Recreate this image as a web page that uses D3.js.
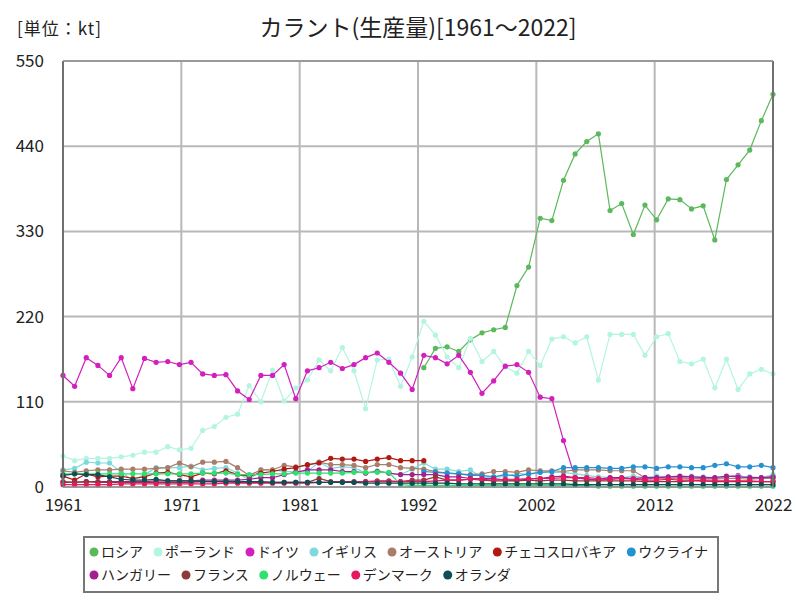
<!DOCTYPE html>
<html><head><meta charset="utf-8">
<script src="https://cdn.jsdelivr.net/npm/d3@7"></script>
<style>
body{margin:0;background:#fff;}
text{font-family:"Noto Sans CJK JP","Noto Sans",sans-serif;}
</style></head>
<body><svg id="c" width="800" height="600"></svg>
<script>
const startYear = 1961, endYear = 2022;
const seriesNames = ["ロシア","ポーランド","ドイツ","イギリス","オーストリア","チェコスロバキア","ウクライナ","ハンガリー","フランス","ノルウェー","デンマーク","オランダ"];
const seriesColors = ["#5cb85c","#b4f5e2","#d21fbe","#7fd9dc","#a87d6a","#b01a12","#2591d0","#a3208f","#8b3a3a","#2ee070","#e8185e","#0e4e55"];
const yTicks = [0,110,220,330,440,550];

const russia = [154,179,181,175,190,199,203,206,260,284,347,344,396,430,446,456,357,366,326,364,345,372,371,359,363,319,397,416,435,473,507]; // 1992-2022
const poland = [40,34,37,37,37,39,41,45,45,52, 48,50,73,78,90,94,131,110,151,111, 128,138,164,150,180,150,101,164,165,130, 168,214,196,168,154,192,162,175,155,147, 175,157,191,194,186,194,138,197,197,197, 170,194,198,162,159,165,128,165,126,146, 152,146];
const germany = [144,130,167,157,144,167,127,166,161,162, 158,161,146,144,145,124,113,144,144,158, 114,150,154,161,153,158,167,173,161,147, 126,170,167,159,170,148,121,137,156,158, 148,116,114,60,12,10,9,10,11,11, 10,12,11,12,11,10,11,13,15,11, 12,13];
const uk = [22,24,32,31,31,19,9,16,25,25, 25,27,22,24,25,18,9,22,22,20, 20,20,32,24,26,25,18,21,18,16, 23,31,23,23,20,22,12,13,13,18, 16,19,19,19,17,15,13,12,12,14, 12,14,13,13,14,13,12,13,14,13, 12,16];
const austria = [21,19,21,22,22,23,23,23,24,25, 31,26,32,32,33,25,15,22,22,28, 26,28,32,29,29,28,25,29,29,25, 24,23,20,18,17,16,17,20,20,19, 22,21,21,20,22,22,22,21,21,21, 12,12,11,12,11,11,10,11,11,10, 11,11];
const czechoslovakia = [14,9,17,13,14,14,11,13,18,19, 16,13,18,17,21,16,14,18,20,23, 25,29,31,37,36,36,33,36,38,34, 34,34]; // 1961-1992
const ukraine = [20,19,18,17,15,15,13,16,14,17,19,20,25,25,25,25,24,24,26,26,24,26,26,25,25,28,30,26,26,28,25]; // 1992-2022
const hungary = [6,6,7,7,7,7,7,7,8,8, 8,8,9,9,9,9,10,12,12,16, 19,22,22,22,20,20,18,20,18,16, 16,16,16,13,13,11,11,11,9,9, 10,11,13,14,12,10,10,12,12,11, 12,12,13,14,13,12,12,14,13,12, 12,13];
const france = [7,6,7,6,6,6,6,6,6,6, 6,6,7,7,7,6,6,6,6,6, 6,6,11,7,7,7,7,8,8,7, 9,9,13,9,9,10,9,8,8,8, 9,8,9,9,8,8,8,8,8,8, 7,7,7,7,8,8,7,7,7,7, 7,7];
const norway = [17,17,17,17,17,17,17,17,17,17, 17,17,18,18,18,16,16,16,17,17, 18,18,18,18,18,19,19,19,19,3, 2,2,2,2,2,2,2,2,2,2, 2,2,2,2,2,2,1,1,1,1, 1,1,1,1,1,1,1,1,1,1, 1,1];
const denmark = [3,3,3,3,3,4,4,4,4,4, 4,4,4,4,5,5,5,5,5,5, 5,5,6,6,6,6,7,7,7,7, 7,7,8,9,9,10,10,9,10,10, 11,11,11,12,12,12,11,10,11,10, 9,9,10,9,9,8,8,8,8,8, 7,7];
const netherlands = [15,17,16,16,13,10,9,9,10,8, 8,8,7,7,7,7,7,7,6,6, 6,6,6,6,6,6,5,5,5,5, 5,5,5,5,4,4,4,4,4,4, 4,4,4,4,3,3,3,3,3,3, 3,3,3,3,3,3,3,3,3,3, 3,3];

const seriesData = [
  {values: russia, from: 1992},
  {values: poland, from: 1961},
  {values: germany, from: 1961},
  {values: uk, from: 1961},
  {values: austria, from: 1961},
  {values: czechoslovakia, from: 1961},
  {values: ukraine, from: 1992},
  {values: hungary, from: 1961},
  {values: france, from: 1961},
  {values: norway, from: 1961},
  {values: denmark, from: 1961},
  {values: netherlands, from: 1961}
];

const svg = d3.select("#c");
const L = 63, R = 773, T = 61, B = 487;
const x = d3.scaleLinear().domain([startYear, endYear]).range([L, R]);
const y = d3.scaleLinear().domain([0, 550]).range([B, T]);

// title
svg.append("text").attr("x", 418).attr("y", 36).attr("text-anchor","middle")
  .attr("font-size", 23).attr("fill","#222").text("カラント(生産量)[1961～2022]");
svg.append("text").attr("x", 17).attr("y", 35).attr("font-size", 17).attr("letter-spacing", 1).attr("fill","#222").text("[単位：kt]");

// grid
const xTickVals = d3.range(0, 7).map(k => startYear + k * (endYear - startYear) / 6);
const g = svg.append("g");
g.selectAll(".gx").data(xTickVals).enter().append("line")
  .attr("x1", d => x(d)).attr("x2", d => x(d)).attr("y1", T).attr("y2", B)
  .attr("stroke", "#b8b8b8").attr("stroke-width", 2);
g.selectAll(".gy").data(yTicks).enter().append("line")
  .attr("x1", L).attr("x2", R).attr("y1", d => y(d)).attr("y2", d => y(d))
  .attr("stroke", "#b8b8b8").attr("stroke-width", 2);

// axes labels
const yAxis = d3.axisLeft(y).tickValues(yTicks).tickSize(0).tickPadding(19);
const ya = svg.append("g").attr("transform", `translate(${L},0)`).call(yAxis);
ya.select(".domain").remove();
ya.selectAll("text").attr("font-size", 17).attr("fill", "#222").attr("font-family","'Liberation Sans',sans-serif");
const xAxis = d3.axisBottom(x).tickValues(xTickVals).tickSize(0).tickPadding(12).tickFormat(d => Math.round(d));
const xa = svg.append("g").attr("transform", `translate(0,${B})`).call(xAxis);
xa.select(".domain").remove();
xa.selectAll("text").attr("font-size", 17).attr("fill", "#222").attr("font-family","'Liberation Sans',sans-serif");

// series
const line = d3.line().defined(d => d.v != null).x(d => x(d.yr)).y(d => y(d.v));
seriesData.forEach((s, i) => {
  const pts = s.values.map((v, j) => ({yr: s.from + j, v}));
  const col = seriesColors[i];
  svg.append("path").datum(pts).attr("d", line).attr("fill", "none")
    .attr("stroke", col).attr("stroke-width", 1.2);
  svg.append("g").selectAll("circle").data(pts).enter().append("circle")
    .attr("cx", d => x(d.yr)).attr("cy", d => y(d.v)).attr("r", 2.6).attr("fill", col);
});

// frame
svg.append("line").attr("x1", L).attr("x2", L).attr("y1", T).attr("y2", B).attr("stroke", "#707070").attr("stroke-width", 2);
svg.append("line").attr("x1", R).attr("x2", R).attr("y1", T).attr("y2", B).attr("stroke", "#707070").attr("stroke-width", 2);
svg.append("line").attr("x1", L).attr("x2", R).attr("y1", T).attr("y2", T).attr("stroke", "#909090").attr("stroke-width", 1.5);
svg.append("line").attr("x1", L).attr("x2", R).attr("y1", B).attr("y2", B).attr("stroke", "#909090").attr("stroke-width", 1.5);

// legend
const lg = svg.append("g");
lg.append("rect").attr("x", 84).attr("y", 537).attr("width", 634).attr("height", 55)
  .attr("fill", "#fff").attr("stroke", "#777").attr("stroke-width", 2);
let lx = 94, ly = 552;
seriesNames.forEach((n, i) => {
  const item = lg.append("g");
  const t = item.append("text").attr("x", lx + 7).attr("y", ly + 5).attr("font-size", 14).attr("fill", "#222").text(n);
  const w = t.node().getComputedTextLength();
  if (lx + 7 + w > 712) {
    lx = 94; ly += 23;
    t.attr("x", lx + 7).attr("y", ly + 5);
  }
  item.append("circle").attr("cx", lx).attr("cy", ly).attr("r", 4.5).attr("fill", seriesColors[i]);
  lx = lx + 7 + w + 15;
});
</script></body></html>
